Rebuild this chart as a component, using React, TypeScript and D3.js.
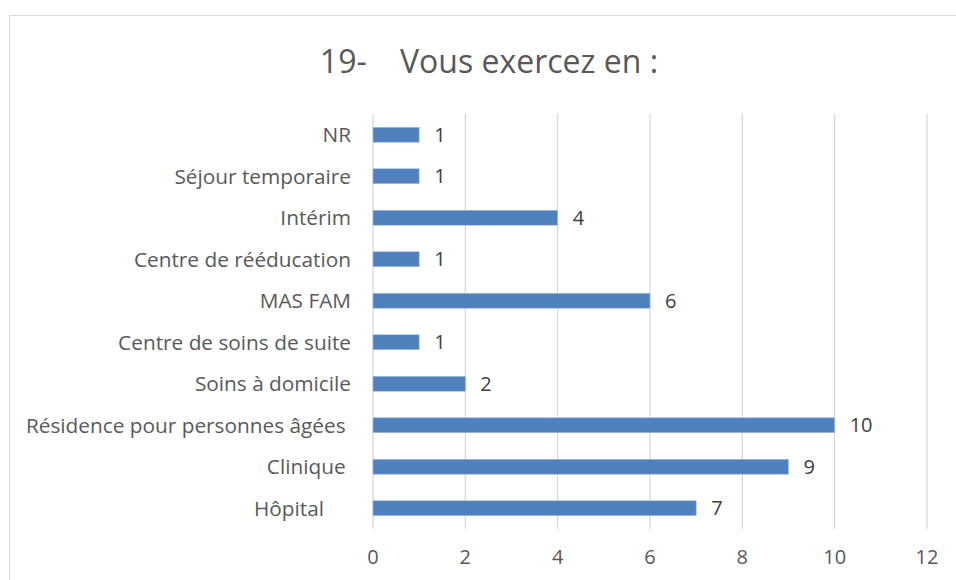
import React from 'react';
import * as d3 from 'd3';

// catégories affichées de haut en bas
const categories = [
  'NR',
  'Séjour temporaire',
  'Intérim',
  'Centre de rééducation',
  'MAS FAM',
  'Centre de soins de suite',
  'Soins à domicile',
  'Résidence pour personnes âgées ',
  'Clinique ',
  'Hôpital     ',
];
const values = [1, 1, 4, 1, 6, 1, 2, 10, 9, 7];
const xTicks = [0, 2, 4, 6, 8, 10, 12];

const W = 956;
const H = 580;
const font = "'Open Sans', 'DejaVu Sans', sans-serif";
const textColor = '#595959';

export default function App() {
  const x = d3.scaleLinear().domain([0, 12]).range([373, 927]);
  const y = d3.scaleBand<string>().domain(categories).range([114, 529]).paddingInner(0.64).paddingOuter(0.32);

  return (
    <svg width={W} height={H} style={{ position: 'absolute', left: 0, top: 0 }}>
      <rect x={0} y={0} width={W} height={H} fill="#fff" />
      <rect x={9.5} y={15.5} width={W + 20} height={H + 20} fill="none" stroke="#d9d9d9" />

      <text x={489} y={73} textAnchor="middle" fontFamily={font} fontSize={32} fill={textColor} style={{ whiteSpace: 'pre' }}>
        {'19-    Vous exercez en :'}
      </text>

      {/* grille */}
      {xTicks.map(t => (
        <g key={t}>
          <line x1={x(t)} x2={x(t)} y1={114} y2={529} stroke="#d9d9d9" strokeWidth={1.3} />
          <text x={x(t)} y={564} textAnchor="middle" fontFamily={font} fontSize={20} fill={textColor}>{t}</text>
        </g>
      ))}

      {/* barres */}
      {categories.map((c, i) => {
        const yy = y(c)!;
        const bw = y.bandwidth();
        return (
          <g key={c}>
            <rect x={x(0)} y={yy} width={x(values[i]) - x(0)} height={bw} fill="#4f81bd" stroke="#a7bfde" strokeWidth={0.6} />
            <text x={x(values[i]) + 15} y={yy + bw / 2} dy="0.36em" fontFamily={font} fontSize={20} fill="#404040">{values[i]}</text>
            <text x={351} y={yy + bw / 2} dy="0.36em" textAnchor="end" fontFamily={font} fontSize={20.8} fill={textColor} style={{ whiteSpace: 'pre' }}>{c}</text>
          </g>
        );
      })}
    </svg>
  );
}
